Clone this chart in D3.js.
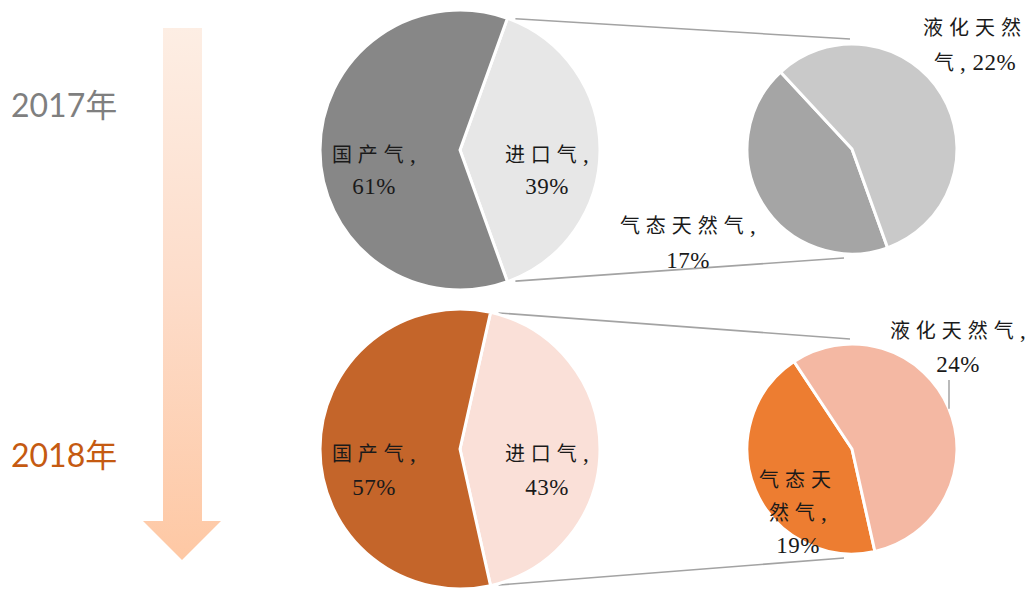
<!DOCTYPE html>
<html>
<head>
<meta charset="utf-8">
<script src="https://cdn.jsdelivr.net/npm/d3@7"></script>
<style>
  html, body { margin: 0; padding: 0; background: #fff; }
  svg { display: block; }
</style>
</head>
<body>
<div id="chart"></div>
<script>
// ---- data ----
const years = ["2017年", "2018年"];
const mainCategories = ["进口气", "国产气"];           // imported, domestic
const mainValues2017 = [39, 61];
const mainValues2018 = [43, 57];
const subCategories = ["气态天然气", "液化天然气"];     // pipeline gas, LNG (breakdown of imports)
const subValues2017 = [17, 22];
const subValues2018 = [19, 24];

// ---- styling / layout ----
const W = 1032, H = 590;
const yearColors = ["#7f7f7f", "#c55a11"];
const mainColors = [["#e7e7e7", "#878787"], ["#fae0d8", "#c4652a"]];
const subColors  = [["#a5a5a5", "#c9c9c9"], ["#ed7d31", "#f4b8a3"]];
const mainR = 140, subR = 105;
const rows = [
  { main: [460, 150], sub: [852, 149], yearY: 117,
    mainVals: mainValues2017, subVals: subValues2017,
    // label placement relative to each pie centre: [dx, first baseline dy, line height, break positions]
    mainLabels: [[85, 12, 32, [4]], [-88, 12, 32, [4]]],
    subLabels:  [[-166, 84, 35, [6]], [121, -114, 35, [4]]],
    leader: null },
  { main: [460, 449], sub: [852, 449], yearY: 467,
    mainVals: mainValues2018, subVals: subValues2018,
    mainLabels: [[85, 12, 34, [4]], [-88, 12, 34, [4]]],
    subLabels:  [[-56, 38, 33, [3, 6]], [104, -111, 34, [6]]],
    leader: 1 }
];

const svg = d3.select("#chart").append("svg")
  .attr("width", W).attr("height", H);

// ---- gradient arrow ----
const defs = svg.append("defs");
const grad = defs.append("linearGradient").attr("id", "arrowGrad")
  .attr("x1", 0).attr("y1", 0).attr("x2", 0).attr("y2", 1);
grad.append("stop").attr("offset", "0%").attr("stop-color", "#fdeee4");
grad.append("stop").attr("offset", "50%").attr("stop-color", "#fddcc9");
grad.append("stop").attr("offset", "100%").attr("stop-color", "#fec8a4");

const arrow = { x0: 163, x1: 202, headL: 143, headR: 221, y0: 28, neck: 521, tip: 560 };
svg.append("path")
  .attr("d", `M${arrow.x0},${arrow.y0}L${arrow.x1},${arrow.y0}L${arrow.x1},${arrow.neck}` +
             `L${arrow.headR},${arrow.neck}L${(arrow.headL + arrow.headR) / 2},${arrow.tip}` +
             `L${arrow.headL},${arrow.neck}L${arrow.x0},${arrow.neck}Z`)
  .attr("fill", "url(#arrowGrad)");

const arc = r => d3.arc().innerRadius(0).outerRadius(r);

function splitLabel(text, breaks) {
  const out = [];
  let p = 0;
  breaks.forEach(b => { out.push(text.slice(p, b).trim()); p = b; });
  out.push(text.slice(p).trim());
  return out;
}

// Chinese runs get wide tracking; digits/punctuation use a serif face
function appendRuns(tspanLine, line) {
  const runs = line.match(/[\u4e00-\u9fff]+|[^\u4e00-\u9fff]+/g) || [];
  runs.forEach(run => {
    const cjk = /[\u4e00-\u9fff]/.test(run);
    tspanLine.append("tspan")
      .attr("font-family", cjk ? "'Noto Sans CJK SC', sans-serif" : "'Liberation Serif', serif")
      .attr("font-size", cjk ? 20 : 23)
      .attr("font-weight", 400)
      .attr("letter-spacing", cjk ? 6 : 0.5)
      .text(run);
  });
}

function drawLabel(g, cx, cy, text, spec) {
  const [dx, dy, lh, breaks] = spec;
  const lines = splitLabel(text, breaks);
  lines.forEach((ln, i) => {
    const t = g.append("text")
      .attr("x", cx + dx + 2).attr("y", cy + dy + i * lh)
      .attr("text-anchor", "middle")
      .attr("fill", "#1a1a1a");
    appendRuns(t, ln);
  });
  return cy + dy + (lines.length - 1) * lh;
}

rows.forEach((row, ri) => {
  const g = svg.append("g");
  const [mx, my] = row.main, [sx, sy] = row.sub;

  // year label
  g.append("text")
    .attr("x", 11).attr("y", row.yearY)
    .attr("font-family", "Lato, 'Noto Sans CJK SC', sans-serif")
    .attr("font-size", 32)
    .attr("fill", yearColors[ri])
    .text(years[ri]);

  const mainTotal = d3.sum(row.mainVals);
  const share = row.mainVals[0] / mainTotal;
  // imported slice centred at 3 o'clock
  const a0 = Math.PI / 2 - Math.PI * share;
  const a1 = Math.PI / 2 + Math.PI * share;

  const mainPie = d3.pie().sort(null).startAngle(a0).endAngle(a0 + 2 * Math.PI);
  const mainArcs = mainPie(row.mainVals);

  // secondary pie starts where the imported slice ends
  const subPie = d3.pie().sort(null).startAngle(a1).endAngle(a1 + 2 * Math.PI);
  const subArcs = subPie(row.subVals);

  // connector lines from the imported slice to the secondary pie
  const pt = (cx, cy, r, a) => [cx + r * Math.sin(a), cy - r * Math.cos(a)];
  const conn = [
    [pt(mx, my, mainR, a0), [sx - 2, sy - subR - 5]],
    [pt(mx, my, mainR, a1), [sx - 8, sy + subR + 4]]
  ];
  conn.forEach(([p, q]) => {
    const len = Math.hypot(q[0] - p[0], q[1] - p[1]);
    const ux = (q[0] - p[0]) / len, uy = (q[1] - p[1]) / len;
    g.append("line")
      .attr("x1", p[0] + ux * 8).attr("y1", p[1] + uy * 8)
      .attr("x2", q[0]).attr("y2", q[1])
      .attr("stroke", "#a3a3a3").attr("stroke-width", 1.6);
  });

  // main pie
  g.append("g").attr("transform", `translate(${mx},${my})`)
    .selectAll("path").data(mainArcs).join("path")
    .attr("d", arc(mainR))
    .attr("fill", (d, i) => mainColors[ri][i])
    .attr("stroke", "#fff").attr("stroke-width", 3).attr("stroke-linejoin", "round");

  // secondary pie
  g.append("g").attr("transform", `translate(${sx},${sy})`)
    .selectAll("path").data(subArcs).join("path")
    .attr("d", arc(subR))
    .attr("fill", (d, i) => subColors[ri][i])
    .attr("stroke", "#fff").attr("stroke-width", 3).attr("stroke-linejoin", "round");

  // labels
  mainArcs.forEach((d, i) => {
    drawLabel(g, mx, my, `${mainCategories[i]}, ${row.mainVals[i]}%`, row.mainLabels[i]);
  });
  subArcs.forEach((d, i) => {
    const bottom = drawLabel(g, sx, sy, `${subCategories[i]}, ${row.subVals[i]}%`, row.subLabels[i]);
    if (row.leader === i) {
      const lx = sx + row.subLabels[i][0] - 7;
      const ey = sy - Math.sqrt(subR * subR - (lx - sx) * (lx - sx));
      g.append("line")
        .attr("x1", lx).attr("y1", bottom + 8)
        .attr("x2", lx).attr("y2", ey)
        .attr("stroke", "#a3a3a3").attr("stroke-width", 1.5);
    }
  });
});
</script>
</body>
</html>
